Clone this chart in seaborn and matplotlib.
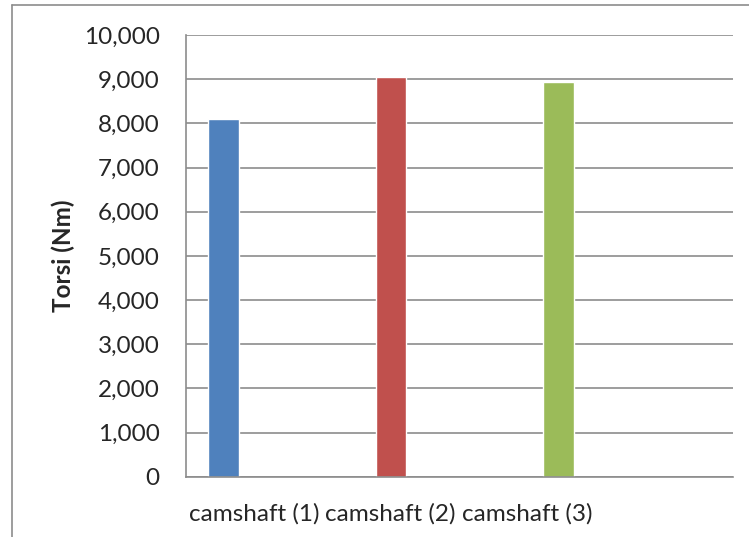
import matplotlib
matplotlib.use("Agg")
import matplotlib.pyplot as plt
import seaborn as sns
import pandas as pd
from matplotlib.lines import Line2D
from matplotlib.ticker import FuncFormatter, MultipleLocator

categories = ["camshaft (1)", "camshaft (2)", "camshaft (3)"]
torsi = [8090, 9045, 8930]
colors = ["#4F81BD", "#C0504D", "#9BBB59"]
y_label = "Torsi (Nm)"

df = pd.DataFrame({"cat": categories, "val": torsi})

sns.set_style("white")
plt.rcParams["font.family"] = ["Lato", "DejaVu Sans"]

W, H = 749, 537
fig = plt.figure(figsize=(W / 100, H / 100), dpi=100)
ax = fig.add_axes([186 / W, 1 - 476.7 / H, (733 - 186) / W, (476.7 - 35) / H])

sns.barplot(data=df, x="cat", y="val", hue="cat", palette=colors,
            width=0.185, legend=False, ax=ax, saturation=1)

ax.set_xlim(-0.224, 3.042)
ax.set_ylim(0, 10000)
ax.yaxis.set_major_locator(MultipleLocator(1000))
ax.yaxis.set_major_formatter(FuncFormatter(lambda v, p: f"{int(v):,}"))
ax.grid(axis="y", color="#8C8C8C", linewidth=1.2)
ax.set_axisbelow(True)

for s in ["top", "right"]:
    ax.spines[s].set_visible(False)
for s in ["left", "bottom"]:
    ax.spines[s].set_color("#8C8C8C")
    ax.spines[s].set_linewidth(1.2)

# Excel packs the category labels side by side
label_step = 136.5 / 167.5
first = (254 - 223.5) / 167.5
ax.set_xticks([first + i * label_step for i in range(len(categories))])
ax.set_xticklabels(categories)
ax.tick_params(axis="x", length=0, pad=19, labelsize=17.5)
ax.tick_params(axis="y", length=0, pad=19, labelsize=17.5)
ax.set_xlabel("")
ax.set_ylabel(y_label, fontsize=17.5, fontweight="bold", labelpad=6)

# outer chart frame
fig.add_artist(Line2D([12 / W, 1], [1 - 5.3 / H, 1 - 5.3 / H], color="#8C8C8C", lw=1.2))
fig.add_artist(Line2D([12 / W, 12 / W], [0, 1 - 5.3 / H], color="#8C8C8C", lw=1.2))

fig.savefig("out.png", dpi=100)
